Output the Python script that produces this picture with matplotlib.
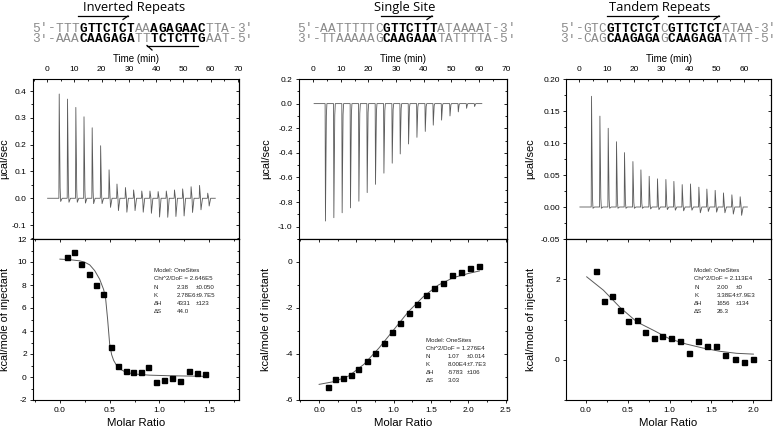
import matplotlib
matplotlib.use('Agg')
import matplotlib.pyplot as plt
from matplotlib.ticker import MultipleLocator
from matplotlib.lines import Line2D

W, H = 778, 430
plt.rcParams['font.family'] = ['Liberation Sans', 'DejaVu Sans']

# ---------------- data ----------------
titles = ["Inverted Repeats", "Single Site", "Tandem Repeats"]

seq_top = [
    [("5'-TTT", False), ("GTTCTCT", True), ("AA", False), ("AGAGAAC", True), ("TTA-3'", False)],
    [("5'-AATTTTTC", False), ("GTTCTTT", True), ("ATAAAAT-3'", False)],
    [("5'-GTC", False), ("GTTCTCT", True), ("C", False), ("GTTCTCT", True), ("ATAA-3'", False)],
]
seq_bot = [
    [("3'-AAA", False), ("CAAGAGA", True), ("TT", False), ("TCTCTTG", True), ("AAT-5'", False)],
    [("3'-TTAAAAAG", False), ("CAAGAAA", True), ("TATTTTA-5'", False)],
    [("3'-CAG", False), ("CAAGAGA", True), ("G", False), ("CAAGAGA", True), ("TATT-5'", False)],
]

# raw ITC injections (time in min, peak and after-dip in µcal/sec)
p1_inj_time = [4.3, 7.35, 10.4, 13.4, 16.4, 19.5, 22.6, 25.5, 28.6, 31.6, 34.6, 37.6, 40.6, 43.6, 46.6, 49.6, 52.7, 55.8, 58.8]
p1_peak = [0.389, 0.37, 0.339, 0.304, 0.263, 0.196, 0.106, 0.053, 0.040, 0.031, 0.027, 0.027, 0.025, 0.027, 0.031, 0.035, 0.043, 0.048, 0.019]
p1_dip = [-0.012, -0.015, -0.015, -0.018, -0.02, -0.02, -0.034, -0.046, -0.052, -0.046, -0.052, -0.056, -0.07, -0.071, -0.068, -0.066, -0.053, -0.043, -0.029]

p2_inj_time = [4.34, 7.38, 10.38, 13.39, 16.43, 19.43, 22.44, 25.48, 28.48, 31.38, 34.39, 37.42, 40.43, 43.32, 46.33, 49.37, 52.37, 55.37, 58.27]
p2_peak = [-0.954, -0.927, -0.887, -0.847, -0.793, -0.723, -0.656, -0.565, -0.484, -0.409, -0.328, -0.274, -0.226, -0.175, -0.134, -0.100, -0.067, -0.038, -0.024]
p2_dip = [0.0] * 19

p3_inj_time = [4.37, 7.42, 10.44, 13.46, 16.37, 19.43, 22.34, 25.35, 28.37, 31.43, 34.34, 37.36, 40.38, 43.43, 46.34, 49.36, 52.38, 55.44, 58.46]
p3_peak = [0.173, 0.142, 0.123, 0.102, 0.085, 0.071, 0.058, 0.048, 0.044, 0.043, 0.040, 0.035, 0.036, 0.031, 0.028, 0.026, 0.022, 0.019, 0.016]
p3_dip = [-0.002, -0.002, -0.002, -0.002, -0.002, -0.002, -0.002, -0.003, -0.004, -0.004, -0.005, -0.006, -0.005, -0.009, -0.007, -0.008, -0.009, -0.011, -0.013]

baseline_span = [(0.15, 61.7), (0.36, 61.0), (0.25, 61.2)]

# integrated heats (molar ratio, kcal/mole of injectant)
p1_ratio = [0.072, 0.146, 0.216, 0.289, 0.364, 0.437, 0.511, 0.585, 0.661, 0.736, 0.812, 0.889, 0.966, 1.047, 1.131, 1.211, 1.294, 1.379, 1.459]
p1_heat = [10.46, 10.87, 9.84, 8.93, 8.0, 7.22, 2.58, 0.96, 0.5, 0.46, 0.4, 0.84, -0.43, -0.23, -0.09, -0.32, 0.55, 0.35, 0.28]
p1_fit_x = [0.0, 0.1, 0.2, 0.25, 0.3, 0.35, 0.4, 0.44, 0.46, 0.48, 0.5, 0.52, 0.54, 0.57, 0.6, 0.66, 0.75, 0.9, 1.1, 1.3, 1.46]
p1_fit_y = [10.25, 10.2, 10.1, 9.98, 9.75, 9.25, 8.5, 7.6, 6.8, 5.0, 2.9, 1.95, 1.45, 1.0, 0.72, 0.42, 0.26, 0.16, 0.11, 0.08, 0.06]

p2_ratio = [0.117, 0.219, 0.323, 0.426, 0.528, 0.641, 0.753, 0.864, 0.977, 1.089, 1.2, 1.313, 1.429, 1.542, 1.663, 1.778, 1.905, 2.02, 2.147]
p2_heat = [-5.42, -5.09, -5.06, -4.93, -4.66, -4.29, -3.96, -3.51, -3.04, -2.65, -2.2, -1.81, -1.43, -1.11, -0.91, -0.55, -0.43, -0.24, -0.19]
p2_fit_x = [0.0, 0.2, 0.4, 0.6, 0.8, 1.0, 1.2, 1.4, 1.6, 1.8, 2.0, 2.15]
p2_fit_y = [-5.32, -5.2, -4.95, -4.45, -3.75, -2.95, -2.15, -1.5, -1.0, -0.68, -0.5, -0.39]

p3_ratio = [0.119, 0.215, 0.314, 0.409, 0.508, 0.608, 0.711, 0.811, 0.914, 1.018, 1.125, 1.232, 1.343, 1.447, 1.555, 1.666, 1.782, 1.893, 2.0]
p3_heat = [2.2, 1.47, 1.58, 1.23, 0.96, 1.0, 0.70, 0.55, 0.59, 0.55, 0.46, 0.18, 0.47, 0.35, 0.35, 0.13, 0.015, -0.06, 0.015]
p3_fit_x = [0.012, 0.21, 0.41, 0.61, 0.81, 1.0, 1.2, 1.4, 1.6, 1.8, 2.0]
p3_fit_y = [2.06, 1.73, 1.30, 0.94, 0.73, 0.52, 0.39, 0.29, 0.21, 0.16, 0.14]

fit_text = [
    ["Model: OneSites", "Chi^2/DoF = 2.646E5", ("N", "2.38", "±0.050"), ("K", "2.78E6", "±9.7E5"), ("ΔH", "4331", "±123"), ("ΔS", "44.0", "")],
    ["Model: OneSites", "Chi^2/DoF = 1.276E4", ("N", "1.07", "±0.014"), ("K", "8.00E4", "±7.7E3"), ("ΔH", "-5783", "±106"), ("ΔS", "3.03", "")],
    ["Model: OneSites", "Chi^2/DoF = 2.113E4", ("N", "2.00", "±0"), ("K", "3.38E4", "±7.9E3"), ("ΔH", "1656", "±134"), ("ΔS", "26.3", "")],
]

# ---------------- layout ----------------
panel_px = [(33, 239), (299, 507), (566, 771)]
top_y0, mid_y, bot_y1 = 79, 239, 400
time_lim = [(-5.2, 70.4), (-5.1, 70.1), (-4.8, 69.8)]
raw_ylim = [(-0.152, 0.445), (-1.1, 0.2), (-0.05, 0.20)]
raw_major = [0.1, 0.2, 0.05]
raw_minor = [0.05, 0.1, 0.025]
raw_fmt = ['{:.1f}', '{:.1f}', '{:.2f}']
ratio_lim = [(-0.27, 1.8), (-0.27, 2.52), (-0.235, 2.21)]
heat_ylim = [(-2, 12), (-6, 1), (-1, 3)]
ylab_x = [-0.113, -0.135, -0.148]
title_cx = [134, 405, 660]
seq_x0 = [31.7, 296.7, 560.0]
seq_charw = [7.9, 7.8, 7.7]
arrows = [
    [((78, 16), (128, 16), 'r'), ((147, 45.5), (198, 45.5), 'l')],
    [((381, 16), (432, 16), 'r')],
    [((607, 16), (658, 16), 'r'), ((668, 16), (719, 16), 'r')],
]
annot_pos = [((154, 176.7, 195.5), 270.7), ((425.7, 447.7, 467.0), 340.0), ((694.3, 716.7, 735.5), 270.7)]

raw_data = [(p1_inj_time, p1_peak, p1_dip), (p2_inj_time, p2_peak, p2_dip), (p3_inj_time, p3_peak, p3_dip)]
heat_data = [(p1_ratio, p1_heat, p1_fit_x, p1_fit_y), (p2_ratio, p2_heat, p2_fit_x, p2_fit_y), (p3_ratio, p3_heat, p3_fit_x, p3_fit_y)]

fig = plt.figure(figsize=(W / 100, H / 100), dpi=100)


def fx(x):
    return x / W


def fy(y):
    return 1 - y / H


def build_trace(times, peaks, dips, t0, t1):
    xs, ys = [t0], [0.0]
    for t, p, d in zip(times, peaks, dips):
        xs += [t, t + 0.12, t + 0.45, t + 0.65, t + 1.2]
        ys += [0.0, p, 0.1 * p, d, 0.0]
    xs.append(t1)
    ys.append(0.0)
    return xs, ys


TL = dict(labelsize=6, width=0.6)
ANN_FS = 4.4
YLAB_FS = 7.9

for i in range(3):
    xl, xr = panel_px[i]
    # ---- top: raw heat ----
    ax = fig.add_axes([fx(xl), fy(mid_y), (xr - xl) / W, (mid_y - top_y0) / H])
    t, p, d = raw_data[i]
    xs, ys = build_trace(t, p, d, *baseline_span[i])
    ax.plot(xs, ys, color='#5a5a5a', lw=0.6)
    ax.set_xlim(*time_lim[i])
    ax.set_ylim(*raw_ylim[i])
    ax.xaxis.set_major_locator(MultipleLocator(10))
    ax.xaxis.set_minor_locator(MultipleLocator(5))
    ax.yaxis.set_major_locator(MultipleLocator(raw_major[i]))
    ax.yaxis.set_minor_locator(MultipleLocator(raw_minor[i]))
    fmt = raw_fmt[i]
    ax.yaxis.set_major_formatter(plt.FuncFormatter(
        lambda v, pos, f=fmt: f.format(0.0) if abs(v) < 1e-9 else f.format(v)))
    ax.tick_params(axis='x', which='both', top=True, bottom=False, labeltop=True, labelbottom=False,
                   direction='in', pad=4.5, **TL)
    ax.tick_params(axis='x', which='major', length=2.5)
    ax.tick_params(axis='x', which='minor', length=1.5)
    ax.tick_params(axis='y', which='both', left=True, right=False, direction='out', pad=2, **TL)
    ax.tick_params(axis='y', which='major', length=2.5)
    ax.tick_params(axis='y', which='minor', length=1.5)
    sec = ax.secondary_yaxis('right')
    sec.yaxis.set_major_locator(MultipleLocator(raw_major[i]))
    sec.yaxis.set_minor_locator(MultipleLocator(raw_minor[i]))
    sec.tick_params(axis='y', which='both', direction='in', labelright=False, width=0.6)
    sec.tick_params(axis='y', which='major', length=2.5)
    sec.tick_params(axis='y', which='minor', length=1.5)
    sec.spines['right'].set_linewidth(0.8)
    ax.xaxis.set_label_position('top')
    ax.set_xlabel('Time (min)', fontsize=7, labelpad=3)
    ax.set_ylabel('µcal/sec', fontsize=YLAB_FS)
    ax.yaxis.set_label_coords(ylab_x[i], 0.5)
    for s in ax.spines.values():
        s.set_linewidth(0.8)

    # ---- bottom: integrated heats ----
    ax2 = fig.add_axes([fx(xl), fy(bot_y1), (xr - xl) / W, (bot_y1 - mid_y) / H])
    r, h, fxv, fyv = heat_data[i]
    ax2.plot(fxv, fyv, color='#5a5a5a', lw=0.7, zorder=2)
    ax2.plot(r, h, ls='none', marker='s', ms=3.6, color='black', zorder=3)
    ax2.set_xlim(*ratio_lim[i])
    ax2.set_ylim(*heat_ylim[i])
    ax2.xaxis.set_major_locator(MultipleLocator(0.5))
    ax2.xaxis.set_minor_locator(MultipleLocator(0.25))
    ax2.yaxis.set_major_locator(MultipleLocator(2))
    ax2.yaxis.set_minor_locator(MultipleLocator(1))
    ax2.xaxis.set_major_formatter(plt.FuncFormatter(lambda v, pos: '{:.1f}'.format(v)))
    ax2.yaxis.set_major_formatter(plt.FuncFormatter(lambda v, pos: '{:d}'.format(int(round(v)))))
    ax2.tick_params(axis='x', which='both', bottom=True, top=False, direction='out', pad=2.5, **TL)
    ax2.tick_params(axis='y', which='both', left=True, right=False, direction='out', pad=2, **TL)
    for a in ('x', 'y'):
        ax2.tick_params(axis=a, which='major', length=2.5)
        ax2.tick_params(axis=a, which='minor', length=1.5)
    sx = ax2.secondary_xaxis('top')
    sx.xaxis.set_major_locator(MultipleLocator(0.5))
    sx.xaxis.set_minor_locator(MultipleLocator(0.25))
    sx.tick_params(axis='x', which='both', direction='in', labeltop=False, width=0.6)
    sx.tick_params(axis='x', which='major', length=2.5)
    sx.tick_params(axis='x', which='minor', length=1.5)
    sx.spines['top'].set_linewidth(0.8)
    sy = ax2.secondary_yaxis('right')
    sy.yaxis.set_major_locator(MultipleLocator(2))
    sy.yaxis.set_minor_locator(MultipleLocator(1))
    sy.tick_params(axis='y', which='both', direction='in', labelright=False, width=0.6)
    sy.tick_params(axis='y', which='major', length=2.5)
    sy.tick_params(axis='y', which='minor', length=1.5)
    sy.spines['right'].set_linewidth(0.8)
    ax2.set_xlabel('Molar Ratio', fontsize=8.2, labelpad=3)
    ax2.set_ylabel('kcal/mole of injectant', fontsize=YLAB_FS)
    ax2.yaxis.set_label_coords(ylab_x[i], 0.5)
    for s in ax2.spines.values():
        s.set_linewidth(0.8)

    # ---- fit annotation ----
    (cx0, cx1, cx2), y0 = annot_pos[i]
    for k, line in enumerate(fit_text[i]):
        yy = fy(y0 + k * 8.2)
        if isinstance(line, str):
            fig.text(fx(cx0), yy, line, fontsize=ANN_FS, va='center', ha='left', color='#222222')
        else:
            for cx, s in zip((cx0, cx1, cx2), line):
                if s:
                    fig.text(fx(cx), yy, s, fontsize=ANN_FS, va='center', ha='left', color='#222222')

    # ---- header: title, sequences, arrows ----
    fig.text(fx(title_cx[i]), fy(7.5), titles[i], fontsize=9.3, ha='center', va='center',
             family=['Open Sans', 'DejaVu Sans'])
    seq_fs = 9.2
    cw = seq_charw[i]
    for segs, yline in ((seq_top[i], 28.5), (seq_bot[i], 39.5)):
        pos = 0
        for txt, bold in segs:
            for ch in txt:
                fig.text(fx(seq_x0[i] + (pos + 0.5) * cw), fy(yline), ch, fontsize=seq_fs,
                         family=['Liberation Mono', 'DejaVu Sans Mono'],
                         fontweight='bold' if bold else 'normal',
                         color='black' if bold else '#8a8a8a', ha='center', va='center')
                pos += 1
    for (x0, y0a), (x1, y1a), dirn in arrows[i]:
        fig.add_artist(Line2D([fx(x0), fx(x1)], [fy(y0a), fy(y1a)], color='black', lw=0.9))
        if dirn == 'r':
            fig.add_artist(Line2D([fx(x1), fx(x1 - 5)], [fy(y1a), fy(y1a + 3.5)], color='black', lw=0.9))
        else:
            fig.add_artist(Line2D([fx(x0), fx(x0 + 5)], [fy(y0a), fy(y0a + 4.5)], color='black', lw=0.9))

fig.savefig('out.png', dpi=100)
